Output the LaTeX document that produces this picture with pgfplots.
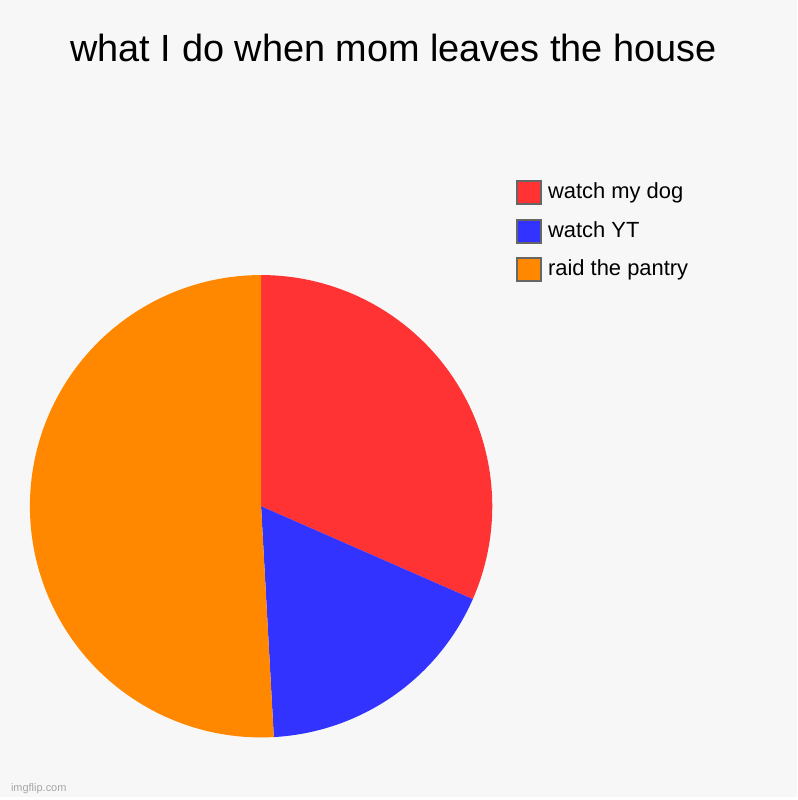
\documentclass[border=0pt]{standalone}
\usepackage{fontspec}
\setmainfont{Liberation Sans}
\usepackage{pgfplots}
\pgfplotsset{compat=1.18}

\definecolor{bg}{HTML}{F7F7F7}
\definecolor{pieRed}{HTML}{FF3333}
\definecolor{pieBlue}{HTML}{3333FF}
\definecolor{pieOrange}{HTML}{FF8800}
\definecolor{boxEdge}{HTML}{666666}

% slice values
\def\vDog{18}
\def\vYT{10}
\def\vPantry{29}

\begin{document}
\begin{tikzpicture}
\pgfmathsetmacro{\total}{\vDog+\vYT+\vPantry}
\pgfmathsetmacro{\aA}{90}
\pgfmathsetmacro{\aB}{\aA-360*\vDog/\total}
\pgfmathsetmacro{\aC}{\aB-360*\vYT/\total}
\pgfmathsetmacro{\aD}{\aC-360*\vPantry/\total}
\begin{axis}[
    set layers,
    x=116pt, y=116pt,
    xmin=-1.1293, xmax=2.3190,
    ymin=-1.2586, ymax=2.1897,
    hide axis,
    clip=false,
    legend style={
        at={(axis cs:1.1034,1.4098)}, anchor=north west,
        draw=none, fill=none, inner sep=0pt, outer sep=0pt,
        row sep=6.75pt,
        font=\fontsize{11}{13}\selectfont,
        nodes={inner sep=0pt, text depth=0pt},
    },
    legend cell align=left,
    legend image code/.code={
        \draw[#1, draw=boxEdge, line width=1pt] (0pt,-6.75pt) rectangle (12pt,4.75pt);
        \path (15.5pt,0pt);
    },
]
\begin{pgfonlayer}{axis background}
\fill[bg] (rel axis cs:0,0) rectangle (rel axis cs:1,1);
\end{pgfonlayer}

\addplot[fill=pieRed, draw=none, domain=\aB:\aA, samples=90, variable=\t]
    ({cos(\t)}, {sin(\t)}) -- (axis cs:0,0) -- cycle;
\addlegendentry{watch my dog}
\addplot[fill=pieBlue, draw=none, domain=\aC:\aB, samples=60, variable=\t]
    ({cos(\t)}, {sin(\t)}) -- (axis cs:0,0) -- cycle;
\addlegendentry{watch YT}
\addplot[fill=pieOrange, draw=none, domain=\aD:\aC, samples=120, variable=\t]
    ({cos(\t)}, {sin(\t)}) -- (axis cs:0,0) -- cycle;
\addlegendentry{raid the pantry}

\node[font=\fontsize{19}{23}\selectfont] at (axis cs:0.5733,1.9828) {what I do when mom leaves the house};
\node[font=\fontsize{5.5}{7}\selectfont, text=black!35, anchor=west] at (axis cs:-1.112,-1.2198) {imgflip.com};
\end{axis}
\end{tikzpicture}
\end{document}
